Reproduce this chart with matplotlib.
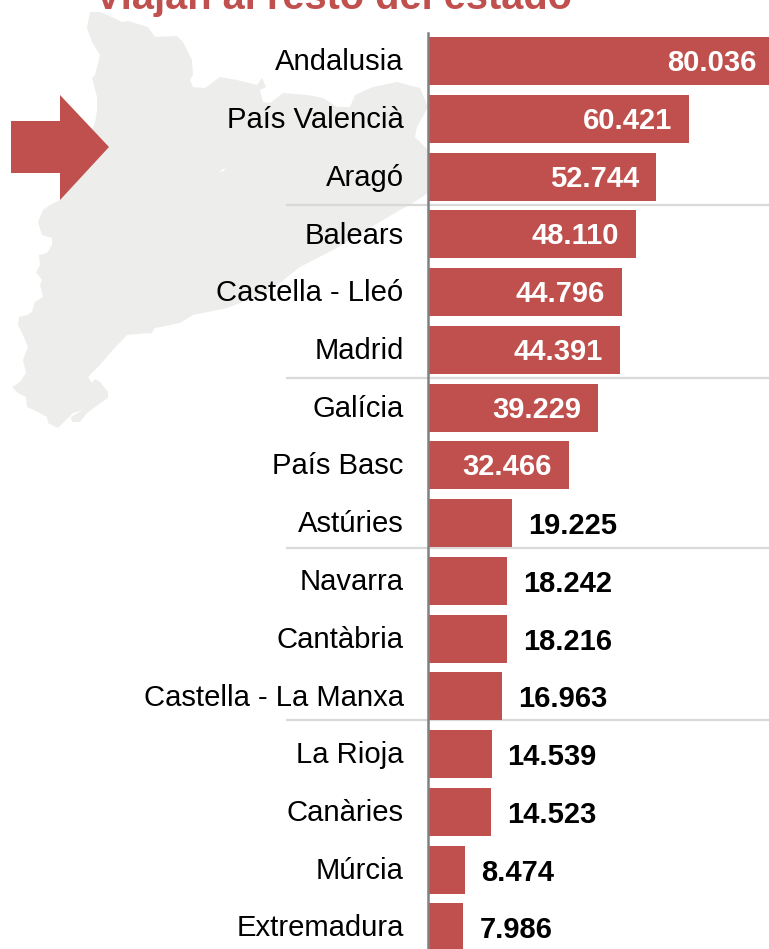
import matplotlib
matplotlib.use('Agg')
import matplotlib.pyplot as plt
from matplotlib.patches import Polygon

plt.rcParams['font.family'] = ['Liberation Sans', 'DejaVu Sans']

regions = ['Andalusia', 'País Valencià', 'Aragó', 'Balears', 'Castella - Lleó', 'Madrid',
           'Galícia', 'País Basc', 'Astúries', 'Navarra', 'Cantàbria', 'Castella - La Manxa',
           'La Rioja', 'Canàries', 'Múrcia', 'Extremadura']
values = [80036, 60421, 52744, 48110, 44796, 44391, 39229, 32466,
          19225, 18242, 18216, 16963, 14539, 14523, 8474, 7986]
value_labels = ['80.036', '60.421', '52.744', '48.110', '44.796', '44.391', '39.229', '32.466',
                '19.225', '18.242', '18.216', '16.963', '14.539', '14.523', '8.474', '7.986']
title = 'Viajan al resto del estado'

RED = '#c0504d'
W, H = 769, 949

# background shape and arrow, in pixel coords
map_outline = [(90, 12), (100, 12), (112, 17), (122, 22), (128, 21), (148, 27), (155, 37), (177, 36),
               (183, 42), (192, 60), (193, 75), (190, 80), (193, 87), (205, 88), (220, 77), (237, 80),
               (257, 85), (262, 78), (266, 87), (260, 90), (263, 102), (270, 103), (283, 93), (307, 95),
               (323, 98), (337, 107), (350, 107), (355, 95), (373, 87), (397, 82), (420, 88), (428, 107),
               (417, 127), (415, 137), (428, 150), (428, 193), (413, 203), (400, 210), (333, 250),
               (300, 267), (267, 293), (240, 303), (227, 308), (193, 315), (180, 323), (155, 328),
               (151, 334), (148, 333), (127, 335), (110, 353), (100, 365), (88, 377), (92, 383), (95, 379),
               (100, 382), (108, 392), (108, 398), (95, 407), (87, 413), (80, 422), (72, 422), (71, 417),
               (83, 410), (73, 413), (58, 428), (48, 423), (47, 417), (38, 412), (27, 407), (26, 397),
               (18, 393), (12, 387), (20, 382), (26, 373), (23, 360), (28, 347), (23, 335), (18, 325),
               (19, 317), (27, 315), (32, 312), (35, 302), (43, 297), (40, 285), (42, 280), (36, 272),
               (40, 265), (39, 255), (47, 253), (52, 245), (52, 238), (42, 235), (38, 222), (43, 210),
               (50, 205), (60, 200), (95, 123), (97, 110), (97, 97), (92, 78), (95, 75), (100, 55),
               (92, 42), (87, 28)]
map_hole = [(218, 172), (225, 168), (224, 171)]
arrow = [(11, 121), (60, 121), (60, 95), (109, 147), (60, 200), (60, 173), (11, 173)]

fig = plt.figure(figsize=(W / 100, H / 100), dpi=100)

bg = fig.add_axes([0, 0, 1, 1])
bg.set_xlim(0, W)
bg.set_ylim(H, 0)
bg.axis('off')
bg.add_patch(Polygon(map_outline, closed=True, fc='#ededec', ec='none'))
bg.add_patch(Polygon(map_hole, closed=True, fc='white', ec='none'))
bg.add_patch(Polygon(arrow, closed=True, fc=RED, ec='none'))
for sep_y in [205, 378, 548, 720]:
    bg.plot([286, W], [sep_y, sep_y], color='#d9d9d9', lw=1.6, solid_capstyle='butt')
bg.text(95, 9, title, color=RED, fontsize=28.6, fontweight='bold', ha='left', va='baseline')

# bars: axes spans px x 429..769, y 33..949
ax = fig.add_axes([429 / W, 0, 340 / W, (H - 33) / H])
ax.patch.set_alpha(0)
step = 57.75
ax.set_ylim((H - 61) / step, -(61 - 33) / step)
ax.set_xlim(0, 340 / 0.0043)
y = list(range(len(regions)))
ax.barh(y, values, height=48 / step, color=RED)

for i, (v, lab) in enumerate(zip(values, value_labels)):
    if v > 30000:
        ax.annotate(lab, (v, i + 0.02), xytext=(-12, -0.7), textcoords='offset points', color='white',
                    fontsize=21, fontweight='bold', ha='right', va='center', annotation_clip=False)
    else:
        ax.annotate(lab, (v, i + 0.02), xytext=(11.5, -1.5), textcoords='offset points', color='black',
                    fontsize=21, fontweight='bold', ha='left', va='center', annotation_clip=False)
    # row name, a little above the bar centre
    ax.annotate(regions[i], (0, i), xytext=(-18.3, -0.9), textcoords='offset points', color='black',
                fontsize=21.1, ha='right', va='center', annotation_clip=False)

ax.set_yticks([])
ax.set_xticks([])
for s in ['top', 'right', 'bottom']:
    ax.spines[s].set_visible(False)
ax.spines['left'].set_color('#808080')
ax.spines['left'].set_linewidth(1.8)
ax.spines['left'].set_position(('outward', 1))

fig.savefig('out.png', dpi=100)
